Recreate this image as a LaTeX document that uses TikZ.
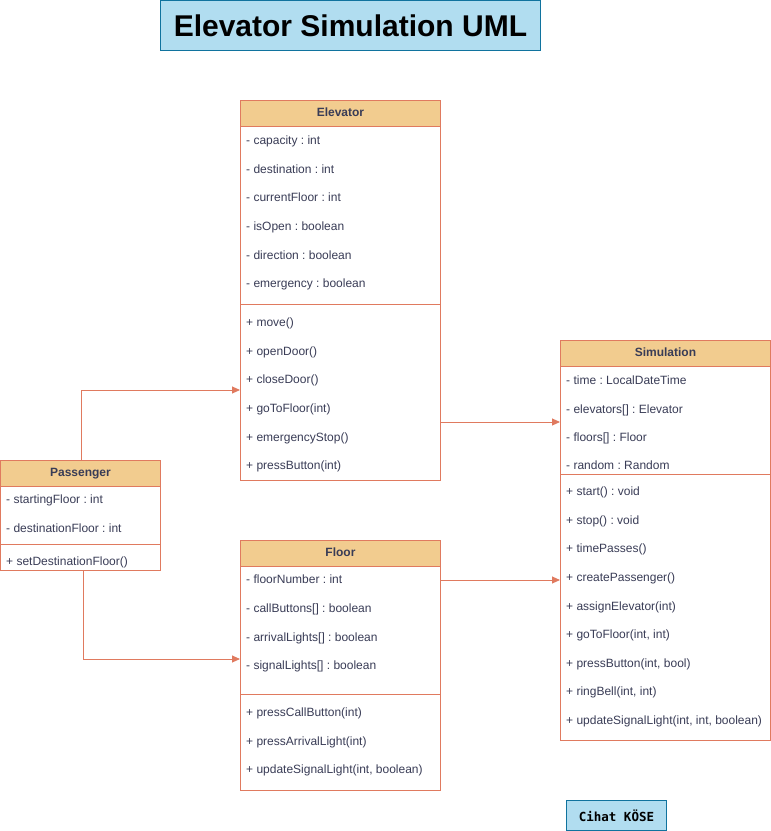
\documentclass[tikz,border=0pt]{standalone}
\usepackage{fontspec}
\setmainfont{Liberation Sans}
\newfontfamily\sigfont{DejaVu Sans Mono}
\usetikzlibrary{arrows.meta}
\frenchspacing

\definecolor{umlline}{HTML}{E07A5F}
\definecolor{umlhead}{HTML}{F2CC8F}
\definecolor{umltext}{HTML}{393C56}
\definecolor{titlefill}{HTML}{B1DDF0}
\definecolor{titleline}{HTML}{10739E}

\tikzset{
  classbox/.style={draw=umlline, line width=0.9pt, fill=white, inner sep=0pt, anchor=north west},
  classhead/.style={draw=umlline, line width=0.9pt, fill=umlhead, inner sep=0pt, anchor=north west,
    minimum height=26pt, text height=9pt, text depth=2.5pt,
    text=umltext, font=\fontsize{12}{14}\selectfont\bfseries},
  member/.style={anchor=west, inner sep=0pt, text height=9pt, text depth=2.5pt,
    text=umltext, font=\fontsize{12}{14}\selectfont},
  sepline/.style={draw=umlline, line width=0.9pt},
  assoc/.style={draw=umlline, line width=0.9pt, -{Triangle[length=8pt,width=7pt]}},
  notebox/.style={draw=titleline, line width=0.9pt, fill=titlefill, inner sep=0pt}
}

\begin{document}
\begin{tikzpicture}[x=1pt,y=-1pt]
\useasboundingbox (0,0) rectangle (771,831);

% title and signature
\node [notebox, minimum width=380pt, minimum height=50pt, anchor=north west,
  font=\fontsize{30}{34}\selectfont\bfseries] (title) at (160,0) {Elevator Simulation UML};
\node [notebox, minimum width=100pt, minimum height=30pt, anchor=north west,
  font=\sigfont\fontsize{12.5}{14}\selectfont\bfseries] (sign) at (566,800) {Cihat KÖSE};

% Elevator
\node [classbox, minimum width=200pt, minimum height=380pt] (elev) at (240,100) {};
\node [classhead, minimum width=200pt] (elevHead) at (240,100) {Elevator};
\draw [sepline] (240,304)--(440,304);
\foreach \t [count=\i] in {- capacity : int, - destination : int, - currentFloor : int,
    - isOpen : boolean, - direction : boolean, - emergency : boolean}
  \node [member] (elevAttr\i) at (246,{141.5+(\i-1)*28.6}) {\t};
\foreach \t [count=\i] in {+ move(), + openDoor(), + closeDoor(), + goToFloor(int),
    + emergencyStop(), + pressButton(int)}
  \node [member] (elevOp\i) at (246,{323.5+(\i-1)*28.6}) {\t};

% Simulation
\node [classbox, minimum width=210pt, minimum height=400pt] (sim) at (560,340) {};
\node [classhead, minimum width=210pt] (simHead) at (560,340) {Simulation};
\draw [sepline] (560,474)--(770,474);
\foreach \t [count=\i] in {- time : LocalDateTime, {- elevators[] : Elevator},
    {- floors[] : Floor}, - random : Random}
  \node [member] (simAttr\i) at (566,{381.5+(\i-1)*28.4}) {\t};
\foreach \t [count=\i] in {+ start() : void, + stop() : void, + timePasses(),
    + createPassenger(), + assignElevator(int), {+ goToFloor(int, int)},
    {+ pressButton(int, bool)}, {+ ringBell(int, int)}, {+ updateSignalLight(int, int, boolean)}}
  \node [member] (simOp\i) at (566,{492.5+(\i-1)*28.6}) {\t};

% Passenger
\node [classbox, minimum width=160pt, minimum height=110pt] (pass) at (0,460) {};
\node [classhead, minimum width=160pt] (passHead) at (0,460) {Passenger};
\draw [sepline] (0,544)--(160,544);
\node [member] (passAttr1) at (6,500.5) {- startingFloor : int};
\node [member] (passAttr2) at (6,529.5) {- destinationFloor : int};
\node [member] (passOp1) at (6,562.5) {+ setDestinationFloor()};

% Floor
\node [classbox, minimum width=200pt, minimum height=250pt] (floor) at (240,540) {};
\node [classhead, minimum width=200pt] (floorHead) at (240,540) {Floor};
\draw [sepline] (240,694)--(440,694);
\foreach \t [count=\i] in {- floorNumber : int, {- callButtons[] : boolean},
    {- arrivalLights[] : boolean}, {- signalLights[] : boolean}}
  \node [member] (floorAttr\i) at (246,{580.5+(\i-1)*28.7}) {\t};
\foreach \t [count=\i] in {+ pressCallButton(int), + pressArrivalLight(int),
    {+ updateSignalLight(int, boolean)}}
  \node [member] (floorOp\i) at (246,{713.5+(\i-1)*28.6}) {\t};

% associations
\draw [assoc] ([xshift=1pt]pass.north) |- (elev.west |- 0,390);
\draw [assoc] (elev.east |- 0,422) -- (sim.west |- 0,422);
\draw [assoc] ([xshift=3pt]pass.south) |- (floor.west |- 0,659);
\draw [assoc] (floor.east |- 0,580) -- (sim.west |- 0,580);

\end{tikzpicture}
\end{document}
